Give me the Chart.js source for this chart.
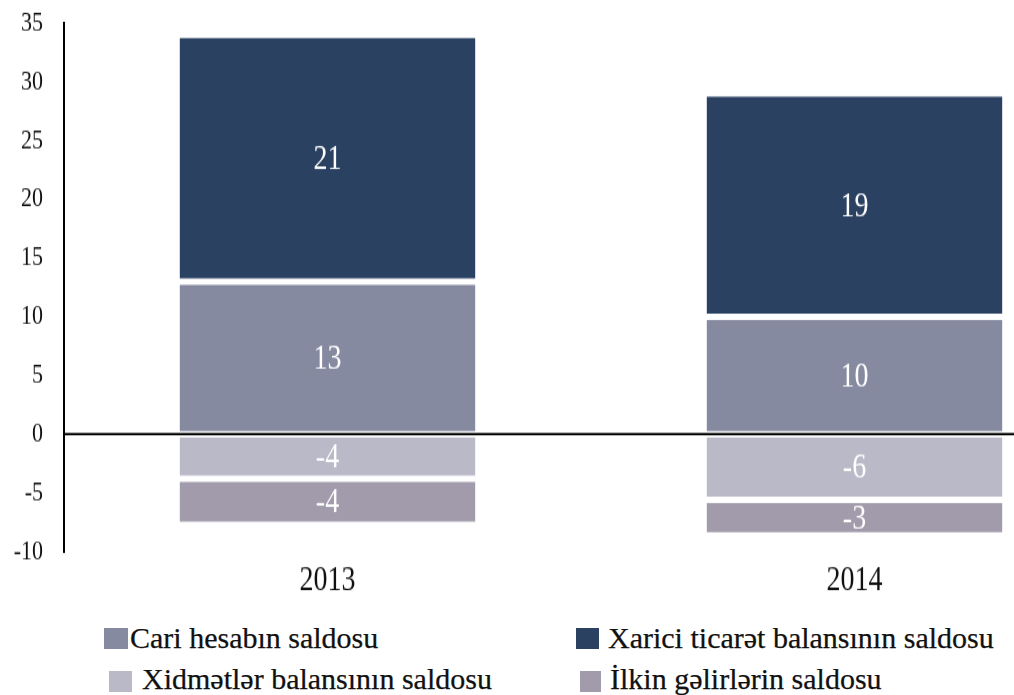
<!DOCTYPE html>
<html>
<head>
<meta charset="utf-8">
<title>Saldo</title>
<script src="https://cdn.jsdelivr.net/npm/chart.js@4.4.0/dist/chart.umd.min.js"></script>
<style>
  body { margin: 0; background: #fff; width: 1014px; height: 695px; overflow: hidden; position: relative;
         font-family: "Liberation Serif", "Times New Roman", serif; }
  #wrap { position: absolute; left: 0; top: 0; width: 1118px; height: 470px;
          transform: scale(1, 1.28); transform-origin: 0 0; }
  .key { position: absolute; font-family: "Liberation Serif", serif; font-size: 30px; line-height: 30px;
         color: #111; white-space: nowrap; -webkit-text-stroke: 0.25px #111; }
  .sw { position: absolute; }
</style>
</head>
<body>
<div id="wrap"><canvas id="chart" width="1118" height="470"></canvas></div>
<div id="legend"></div>
<script>
const years = ['2013', '2014'];
const seriesNames = [
  'Cari hesabın saldosu',
  'Xarici ticarət balansının saldosu',
  'Xidmətlər balansının saldosu',
  'İlkin gəlirlərin saldosu'
];
const cari = [13, 10];
const xarici = [21, 19];
const xidmet = [-3.8, -5.6];
const ilkin = [-3.9, -3.0];
const yTicks = [35, 30, 25, 20, 15, 10, 5, 0, -5, -10];

const colors = ['#868AA0', '#2B4162', '#BAB9C8', '#A19BAC'];
const values = [cari, xarici, xidmet, ilkin];

// white value labels in the middle of each segment + the zero line
const barText = {
  id: 'barText',
  afterDatasetsDraw(chart) {
    const ctx = chart.ctx;
    const area = chart.chartArea;
    const y0 = chart.scales.y.getPixelForValue(0);
    ctx.save();
    ctx.strokeStyle = '#000';
    ctx.lineWidth = 1.7;
    ctx.beginPath();
    ctx.moveTo(area.left, y0);
    ctx.lineTo(chart.width, y0);
    ctx.stroke();

    ctx.font = '28px "Liberation Serif"';
    ctx.fillStyle = '#fff';
    ctx.textAlign = 'center';
    ctx.textBaseline = 'middle';
    chart.data.datasets.forEach((ds, i) => {
      chart.getDatasetMeta(i).data.forEach((bar, j) => {
        ctx.fillText(String(Math.round(ds.data[j])), bar.x, (bar.y + bar.base) / 2 + 1);
      });
    });
    ctx.restore();
  }
};

new Chart(document.getElementById('chart'), {
  type: 'bar',
  data: {
    labels: years,
    datasets: seriesNames.map((name, i) => ({
      label: name,
      data: values[i],
      backgroundColor: colors[i],
      borderColor: '#fff',
      borderWidth: 2.5,
      borderSkipped: false
    }))
  },
  options: {
    responsive: false,
    animation: false,
    devicePixelRatio: 1,
    layout: { padding: 0 },
    categoryPercentage: 1,
    barPercentage: 0.57,
    plugins: {
      legend: { display: false },
      tooltip: { enabled: false }
    },
    scales: {
      x: {
        stacked: true,
        grid: { display: false, drawTicks: false },
        border: { display: false },
        ticks: { color: '#111', padding: 6, font: { family: 'Liberation Serif', size: 28 } },
        afterFit(scale) { scale.height = 39; }
      },
      y: {
        stacked: true,
        min: -10,
        max: 35,
        afterBuildTicks(scale) { scale.ticks = yTicks.map(v => ({ value: v })); },
        grid: { display: false, drawTicks: false },
        border: { display: true, color: '#000', width: 2 },
        ticks: { color: '#111', padding: 21, font: { family: 'Liberation Serif', size: 22 } },
        afterFit(scale) {
          scale.width = 64;
          scale.paddingTop = 18;
          scale.paddingBottom = 0;
        }
      }
    }
  },
  plugins: [barText]
});

// 2x2 legend under the chart
const legendSpots = [
  { sx: 104, sy: 628, sw: 24, sh: 21, tx: 130, ty: 623 },
  { sx: 576, sy: 628, sw: 23, sh: 21, tx: 608, ty: 623 },
  { sx: 109, sy: 671, sw: 23, sh: 21, tx: 142, ty: 664 },
  { sx: 580, sy: 671, sw: 21, sh: 21, tx: 610, ty: 664 }
];
const legend = document.getElementById('legend');
seriesNames.forEach((name, i) => {
  const p = legendSpots[i];
  const sw = document.createElement('div');
  sw.className = 'sw';
  sw.style.cssText = `left:${p.sx}px;top:${p.sy}px;width:${p.sw}px;height:${p.sh}px;background:${colors[i]}`;
  legend.appendChild(sw);
  const t = document.createElement('div');
  t.className = 'key';
  t.style.left = p.tx + 'px';
  t.style.top = p.ty + 'px';
  t.textContent = name;
  legend.appendChild(t);
});
</script>
</body>
</html>
